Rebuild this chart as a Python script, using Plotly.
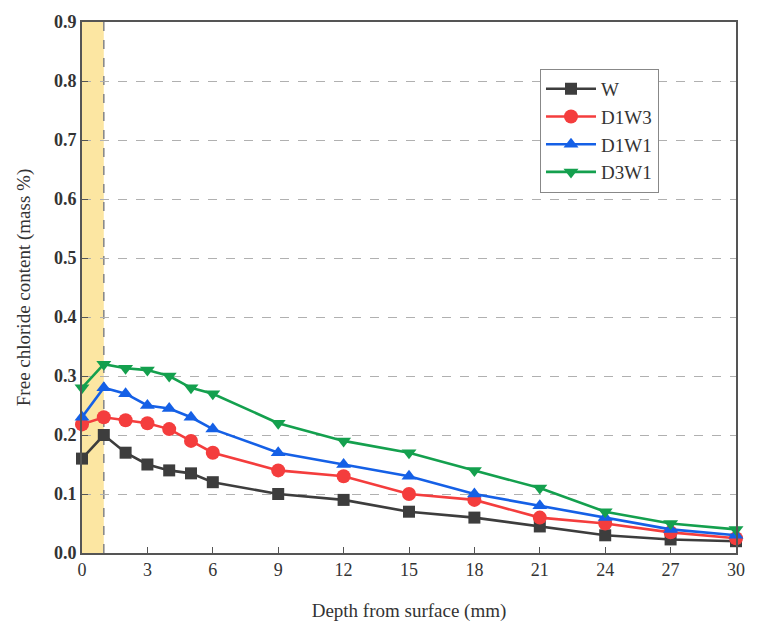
import plotly.graph_objects as go

# Depth positions (mm) and free chloride content (mass %) for each exposure regime
depth = [0, 1, 2, 3, 4, 5, 6, 9, 12, 15, 18, 21, 24, 27, 30]
w_vals = [0.16, 0.20, 0.17, 0.15, 0.14, 0.135, 0.12, 0.10, 0.09, 0.07, 0.06, 0.045, 0.03, 0.023, 0.02]
d1w3_vals = [0.218, 0.23, 0.225, 0.22, 0.21, 0.19, 0.17, 0.14, 0.13, 0.10, 0.09, 0.06, 0.05, 0.035, 0.025]
d1w1_vals = [0.23, 0.28, 0.27, 0.25, 0.245, 0.23, 0.21, 0.17, 0.15, 0.13, 0.10, 0.08, 0.06, 0.04, 0.03]
d3w1_vals = [0.28, 0.32, 0.313, 0.31, 0.30, 0.28, 0.27, 0.22, 0.19, 0.17, 0.14, 0.11, 0.07, 0.05, 0.04]

series_names = ["W", "D1W3", "D1W1", "D3W1"]
x_ticks = [0, 3, 6, 9, 12, 15, 18, 21, 24, 27, 30]
y_ticks = [0.0, 0.1, 0.2, 0.3, 0.4, 0.5, 0.6, 0.7, 0.8, 0.9]

colors = ["#3d3d3d", "#f43d3d", "#1560e6", "#14a04e"]
symbols = ["square", "circle", "triangle-up", "triangle-down"]
sizes = [12, 14, 13, 13]

FONT = "Liberation Serif, Times New Roman, serif"

fig = go.Figure()

for name, vals, c, s, sz in zip(series_names, [w_vals, d1w3_vals, d1w1_vals, d3w1_vals],
                                colors, symbols, sizes):
    fig.add_trace(go.Scatter(
        x=depth, y=vals, name=name, mode="lines+markers",
        line=dict(color=c, width=2.6),
        marker=dict(symbol=s, size=sz, color=c),
        cliponaxis=False,
    ))

# Shaded surface zone (0-1 mm) with dashed boundary
fig.add_shape(type="rect", xref="x", yref="y", x0=0, x1=1, y0=0, y1=0.9,
              fillcolor="#fce6a2", line=dict(width=0), layer="below")
fig.add_shape(type="line", xref="x", yref="y", x0=1, x1=1, y0=0, y1=0.9,
              line=dict(color="#8a8a8a", width=1.6, dash="dash"), layer="below")

fig.update_layout(
    width=757, height=631,
    margin=dict(l=82, r=14, t=20, b=78),
    paper_bgcolor="white", plot_bgcolor="white",
    font=dict(family=FONT, color="#333333", size=17),
    legend=dict(
        x=0.70, y=0.912, xanchor="left", yanchor="top",
        bgcolor="white", bordercolor="#888888", borderwidth=1.2,
        font=dict(family=FONT, size=19, color="#333333"),
        itemwidth=50, tracegroupgap=0,
    ),
    xaxis=dict(
        range=[0, 30], tickvals=x_ticks, ticktext=[str(t) for t in x_ticks],
        showgrid=False, zeroline=False,
        showline=True, linecolor="#555555", linewidth=1.6, mirror=True,
        ticks="inside", ticklen=6, tickwidth=1.3, tickcolor="#555555",
        tickfont=dict(family=FONT, size=18, color="#333333"),
        title=dict(text="Depth from surface (mm)", standoff=24,
                   font=dict(family=FONT, size=19, color="#333333")),
    ),
    yaxis=dict(
        range=[0, 0.9], tickvals=y_ticks, ticktext=[f"{t:.1f}" for t in y_ticks],
        showgrid=True, gridcolor="#b0b0b0", griddash="dash", gridwidth=1.3,
        zeroline=False,
        showline=True, linecolor="#555555", linewidth=1.6, mirror=True,
        ticks="inside", ticklen=6, tickwidth=1.3, tickcolor="#555555",
        tickfont=dict(family=FONT, size=18, color="#333333", weight="bold"),
        title=dict(text="Free chloride content (mass %)", standoff=18,
                   font=dict(family=FONT, size=19, color="#333333")),
    ),
)

fig.write_html("out.html")
